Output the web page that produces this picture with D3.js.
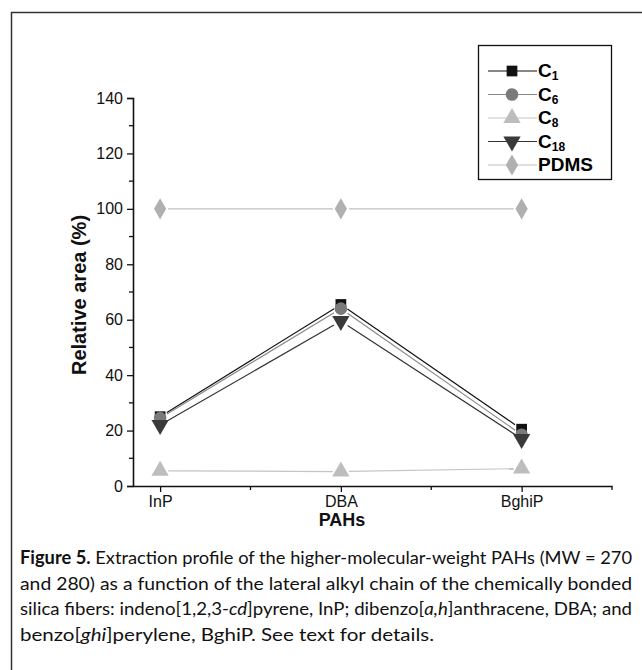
<!DOCTYPE html>
<html>
<head>
<meta charset="utf-8">
<script src="https://cdn.jsdelivr.net/npm/d3@7"></script>
<style>
  body { margin: 0; background: #fff; }
  svg { display: block; }
</style>
</head>
<body>
<div id="chart"></div>
<script>
const categories = ['InP', 'DBA', 'BghiP']
const c1Values = [25, 65.5, 20.5]
const c6Values = [24.5, 64, 18.5]
const c8Values = [5.5, 5.2, 6.3]
const c18Values = [22, 59.5, 17]
const pdmsValues = [100, 100, 100]
const yTicks = [0, 20, 40, 60, 80, 100, 120, 140]

const series = [
  { name: 'C', sub: '1', values: c1Values, symbol: d3.symbolSquare, fill: '#111', line: '#111', size: 115 },
  { name: 'C', sub: '6', values: c6Values, symbol: d3.symbolCircle, fill: '#7a7a7a', line: '#8a8a8a', size: 125 },
  { name: 'C', sub: '8', values: c8Values, symbol: d3.symbolTriangle, fill: '#bdbdbd', line: '#c4c4c4', size: 130 },
  { name: 'C', sub: '18', values: c18Values, symbol: 'down', fill: '#3a3a3a', line: '#333', size: 130 },
  { name: 'PDMS', sub: '', values: pdmsValues, symbol: d3.symbolDiamond, fill: '#b0b0b0', line: '#c0c0c0', size: 130 }
]

const width = 642
const height = 670
const svg = d3.select('#chart').append('svg')
  .attr('width', width)
  .attr('height', height)

// outer frame (only top and left edges visible)
svg.append('rect')
  .attr('x', 11.5).attr('y', 12.5)
  .attr('width', 700).attr('height', 700)
  .attr('fill', 'none')
  .attr('stroke', '#333')
  .attr('stroke-width', 1.5)

const x = d3.scaleLinear().domain([-0.15, 2.5]).range([133, 612])
const y = d3.scaleLinear().domain([0, 140]).range([486, 98])

const axisFont = 'Liberation Sans, Arial, sans-serif'

// y axis
const yAxis = svg.append('g')
  .attr('transform', 'translate(133,0)')
  .call(d3.axisLeft(y).tickValues(yTicks).tickSize(6).tickPadding(4))
yAxis.append('g').selectAll('line')
  .data(d3.range(10, 140, 20))
  .join('line')
  .attr('x1', 0).attr('x2', -4)
  .attr('y1', d => y(d)).attr('y2', d => y(d))
  .attr('stroke', '#111').attr('stroke-width', 1.3)
yAxis.select('.domain').attr('stroke', '#111').attr('stroke-width', 1.6)
yAxis.selectAll('.tick line').attr('stroke', '#111').attr('stroke-width', 1.3)
yAxis.selectAll('.tick text')
  .style('font-family', axisFont).style('font-size', '16px').attr('fill', '#111')

// x axis
const xAxis = svg.append('g')
  .attr('transform', 'translate(0,486)')
  .call(d3.axisBottom(x).tickValues([0, 1, 2]).tickFormat(i => categories[i]).tickSize(6).tickPadding(4).tickSizeOuter(0))
xAxis.append('g').selectAll('line')
  .data([0.5, 1.5, 2.5])
  .join('line')
  .attr('x1', d => x(d)).attr('x2', d => x(d))
  .attr('y1', 0).attr('y2', 4)
  .attr('stroke', '#111').attr('stroke-width', 1.3)
xAxis.select('.domain').attr('stroke', '#111').attr('stroke-width', 1.6)
xAxis.selectAll('.tick line').attr('stroke', '#111').attr('stroke-width', 1.3)
xAxis.selectAll('.tick text')
  .style('font-family', axisFont).style('font-size', '16px').attr('fill', '#111')

// axis titles
svg.append('text')
  .attr('transform', 'translate(86,295) rotate(-90)')
  .attr('text-anchor', 'middle')
  .style('font-family', axisFont).style('font-weight', 'bold').style('font-size', '20px')
  .attr('fill', '#111')
  .text('Relative area (%)')

svg.append('text')
  .attr('x', 342).attr('y', 526)
  .attr('text-anchor', 'middle')
  .style('font-family', axisFont).style('font-weight', 'bold').style('font-size', '18px')
  .attr('fill', '#111')
  .text('PAHs')

function symbolPath (s) {
  if (s.symbol === 'down') {
    return d3.symbol().type(d3.symbolTriangle).size(s.size)()
  }
  return d3.symbol().type(s.symbol).size(s.size)()
}

// lines with small gaps at markers
const gap = 8
series.forEach(s => {
  const g = svg.append('g')
  const pts = s.values.map((v, i) => [x(i), y(v)])
  for (let i = 0; i < pts.length - 1; i++) {
    const [x0, y0] = pts[i]
    const [x1, y1] = pts[i + 1]
    const len = Math.hypot(x1 - x0, y1 - y0)
    const ux = (x1 - x0) / len
    const uy = (y1 - y0) / len
    g.append('line')
      .attr('x1', x0 + ux * gap).attr('y1', y0 + uy * gap)
      .attr('x2', x1 - ux * gap).attr('y2', y1 - uy * gap)
      .attr('stroke', s.line).attr('stroke-width', 1.2)
  }
})

// markers
series.forEach(s => {
  svg.append('g').selectAll('path')
    .data(s.values)
    .join('path')
    .attr('d', symbolPath(s))
    .attr('transform', (v, i) => `translate(${x(i)},${y(v)})` + (s.symbol === 'down' ? ' rotate(180)' : ''))
    .attr('fill', s.fill)
})

// legend
const legend = svg.append('g')
legend.append('rect')
  .attr('x', 478.5).attr('y', 45.5)
  .attr('width', 133).attr('height', 134)
  .attr('fill', '#fff').attr('stroke', '#111').attr('stroke-width', 1.3)

const legendY = d3.scalePoint().domain(d3.range(series.length)).range([71, 165])
series.forEach((s, i) => {
  const ly = legendY(i)
  legend.append('line')
    .attr('x1', 488).attr('x2', 537)
    .attr('y1', ly).attr('y2', ly)
    .attr('stroke', s.line).attr('stroke-width', 1.2)
  legend.append('path')
    .attr('d', symbolPath(s))
    .attr('transform', `translate(512,${ly})` + (s.symbol === 'down' ? ' rotate(180)' : ''))
    .attr('fill', s.fill)
  const t = legend.append('text')
    .attr('x', 538).attr('y', ly + 6)
    .style('font-family', axisFont).style('font-weight', 'bold').style('font-size', '19px')
    .attr('fill', '#000')
  t.append('tspan').text(s.name)
  if (s.sub) {
    t.append('tspan').attr('dy', 3).style('font-size', '12px').text(s.sub)
  }
})

// caption
const captionFont = 'Lato, "Open Sans", sans-serif'
const captionLines = [
  [{ t: 'Figure 5.', b: true }, { t: ' Extraction profile of the higher-molecular-weight PAHs (MW = 270' }],
  [{ t: 'and 280) as a function of the lateral alkyl chain of the chemically bonded' }],
  [{ t: 'silica fibers: indeno[1,2,3-' }, { t: 'cd', i: true }, { t: ']pyrene, InP; dibenzo[' }, { t: 'a,h', i: true }, { t: ']anthracene, DBA; and' }],
  [{ t: 'benzo[' }, { t: 'ghi', i: true }, { t: ']perylene, BghiP. See text for details.' }]
]
const captionWidths = [612, 612, 612, 414]
captionLines.forEach((line, i) => {
  const t = svg.append('text')
    .attr('x', 20).attr('y', 564 + i * 25.5)
    .style('font-family', captionFont).style('font-size', '18px')
    .attr('fill', '#111')
    .attr('textLength', captionWidths[i]).attr('lengthAdjust', 'spacingAndGlyphs')
  line.forEach(part => {
    t.append('tspan')
      .style('font-weight', part.b ? 'bold' : null)
      .style('font-style', part.i ? 'italic' : null)
      .text(part.t)
  })
})
</script>
</body>
</html>
